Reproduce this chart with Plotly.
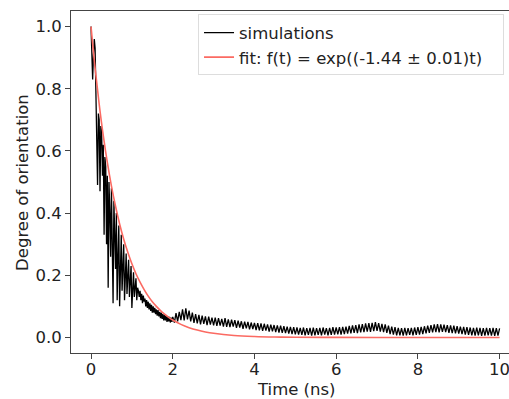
import numpy as np
import plotly.graph_objects as go

# ---- simulation data ----
# early part: t = 0.00 .. 2.00 ns, step 0.02
sim_early = [
    1.00, 0.92, 0.83, 0.91, 0.96, 0.93, 0.78, 0.58, 0.49, 0.72,
    0.70, 0.47, 0.68, 0.66, 0.52, 0.62, 0.33, 0.58, 0.55, 0.30,
    0.52, 0.16, 0.50, 0.40, 0.26, 0.48, 0.20, 0.11, 0.44, 0.30,
    0.22, 0.40, 0.12, 0.26, 0.36, 0.10, 0.24, 0.33, 0.15, 0.22,
    0.30, 0.12, 0.21, 0.27, 0.14, 0.20, 0.25, 0.13, 0.19, 0.23,
    0.095, 0.18, 0.21, 0.13, 0.17, 0.19, 0.12, 0.16, 0.15, 0.13,
    0.15, 0.12, 0.14, 0.11, 0.135, 0.115, 0.125, 0.10, 0.12, 0.095,
    0.115, 0.09, 0.11, 0.085, 0.105, 0.08, 0.10, 0.08, 0.095, 0.075,
    0.09, 0.07, 0.088, 0.068, 0.082, 0.062, 0.08, 0.06, 0.075, 0.055,
    0.072, 0.055, 0.07, 0.05, 0.068, 0.052, 0.066, 0.048, 0.064, 0.05,
    0.066,
]
# late part: t = 2.04 .. 10.00 ns, step 0.04
sim_late = [
    0.048, 0.078, 0.052, 0.082, 0.056, 0.090, 0.055, 0.094, 0.058, 0.086, 0.052, 0.080, 0.047, 0.075, 0.045, 0.073, 0.042, 0.070, 0.044, 0.068, 0.040, 0.067, 0.041, 0.064, 0.039,
    0.064, 0.037, 0.062, 0.038, 0.060, 0.035, 0.062, 0.034, 0.058, 0.033, 0.057, 0.035, 0.056, 0.031, 0.054, 0.032, 0.052, 0.028, 0.051, 0.029, 0.050, 0.026, 0.048, 0.027, 0.047,
    0.024, 0.046, 0.023, 0.045, 0.021, 0.044, 0.022, 0.042, 0.019, 0.041, 0.020, 0.040, 0.017, 0.039, 0.016, 0.038, 0.015, 0.036, 0.014, 0.035, 0.012, 0.034, 0.011, 0.033, 0.010,
    0.032, 0.009, 0.031, 0.008, 0.032, 0.007, 0.030, 0.008, 0.031, 0.006, 0.032, 0.007, 0.030, 0.008, 0.031, 0.007, 0.032, 0.009, 0.030, 0.007, 0.031, 0.008, 0.033, 0.009, 0.032,
    0.010, 0.033, 0.009, 0.034, 0.011, 0.035, 0.012, 0.037, 0.013, 0.039, 0.015, 0.040, 0.014, 0.042, 0.016, 0.043, 0.017, 0.045, 0.019, 0.046, 0.018, 0.047, 0.020, 0.049, 0.021,
    0.046, 0.019, 0.044, 0.017, 0.042, 0.015, 0.038, 0.011, 0.035, 0.009, 0.033, 0.007, 0.031, 0.007, 0.030, 0.006, 0.031, 0.007, 0.030, 0.008, 0.031, 0.007, 0.032, 0.008, 0.033,
    0.009, 0.034, 0.011, 0.036, 0.013, 0.038, 0.015, 0.040, 0.016, 0.042, 0.017, 0.043, 0.016, 0.042, 0.018, 0.041, 0.017, 0.040, 0.015, 0.039, 0.014, 0.038, 0.013, 0.036, 0.012,
    0.035, 0.011, 0.034, 0.009, 0.033, 0.008, 0.032, 0.007, 0.031, 0.006, 0.032, 0.007, 0.031, 0.005, 0.030, 0.006, 0.031, 0.007, 0.030, 0.006, 0.031, 0.005, 0.030, 0.006, 0.029,
]
t_early = np.linspace(0.0, 2.0, len(sim_early))
t_late = np.linspace(2.04, 10.0, len(sim_late))
sim_t = np.concatenate([t_early, t_late])
sim_v = np.array(sim_early + sim_late)

# ---- fit curve values ----
fit_t = [0, 0.1, 0.2, 0.3, 0.4, 0.5, 0.6, 0.7, 0.8, 0.9, 1.0, 1.1, 1.2, 1.3, 1.4, 1.5,
         1.6, 1.7, 1.8, 1.9, 2.0, 2.2, 2.4, 2.6, 2.8, 3.0, 3.5, 4.0, 4.5, 5.0, 6.0, 7.0, 8.0, 10.0]
fit_v = [1.000, 0.866, 0.750, 0.649, 0.562, 0.487, 0.422, 0.365, 0.316, 0.274, 0.237,
         0.205, 0.178, 0.154, 0.133, 0.115, 0.100, 0.0865, 0.0749, 0.0648, 0.0561,
         0.0421, 0.0316, 0.0237, 0.0177, 0.0133, 0.0065, 0.0032, 0.0015, 0.0007,
         0.0002, 0.00004, 0.00001, 0.0]

sim_label = "simulations"
fit_label = "fit: f(t) = exp((-1.44 ± 0.01)t)"
x_title = "Time (ns)"
y_title = "Degree of orientation"
x_ticks = [0, 2, 4, 6, 8, 10]
y_ticks = [0.0, 0.2, 0.4, 0.6, 0.8, 1.0]

FONT = "DejaVu Sans"
fig = go.Figure()
fig.add_trace(go.Scatter(x=sim_t, y=sim_v, mode="lines", name=sim_label,
                         line=dict(color="black", width=1.3)))
fig.add_trace(go.Scatter(x=fit_t, y=fit_v, mode="lines",
                         name=fit_label + "\u00a0\u00a0\u00a0",
                         line=dict(color="#fb6a62", width=1.6, shape="spline")))

fig.update_layout(
    width=509, height=399,
    margin=dict(l=71, r=0, t=11, b=46, autoexpand=False),
    paper_bgcolor="white", plot_bgcolor="white",
    font=dict(family=FONT, size=16.5, color="#222"),
    showlegend=True,
    legend=dict(x=0.29, y=0.99, xanchor="left", yanchor="top",
                bgcolor="rgba(255,255,255,0.9)", bordercolor="#dddddd", borderwidth=1,
                font=dict(family=FONT, size=16.5, color="#222"),
                tracegroupgap=0, itemwidth=30),
    annotations=[
        dict(text=x_title, xref="paper", yref="paper", x=0.514, y=-0.106,
             xanchor="center", yanchor="middle", showarrow=False,
             font=dict(family=FONT, size=16.5, color="#222")),
        dict(text=y_title, xref="paper", yref="paper", x=-0.112, y=0.5,
             xanchor="center", yanchor="middle", showarrow=False, textangle=-90,
             font=dict(family=FONT, size=16.5, color="#222")),
    ],
)
fig.update_xaxes(range=[-0.49, 10.23], tickvals=x_ticks,
                 ticktext=[str(v) for v in x_ticks],
                 showgrid=False, zeroline=False, automargin=False,
                 ticklabeloverflow="allow", ticklabelstandoff=-4,
                 showline=True, linecolor="#444", linewidth=1, mirror=True,
                 ticks="outside", ticklen=5, tickcolor="#444")
fig.update_yaxes(range=[-0.05, 1.05], tickvals=y_ticks,
                 ticktext=[f"{v:.1f}" for v in y_ticks],
                 showgrid=False, zeroline=False, automargin=False,
                 showline=True, linecolor="#444", linewidth=1,
                 ticks="outside", ticklen=5, tickcolor="#444")

fig.write_html("out.html", config={"displayModeBar": False},
               post_script="document.body.style.margin='0px';document.body.style.overflow='hidden';")
